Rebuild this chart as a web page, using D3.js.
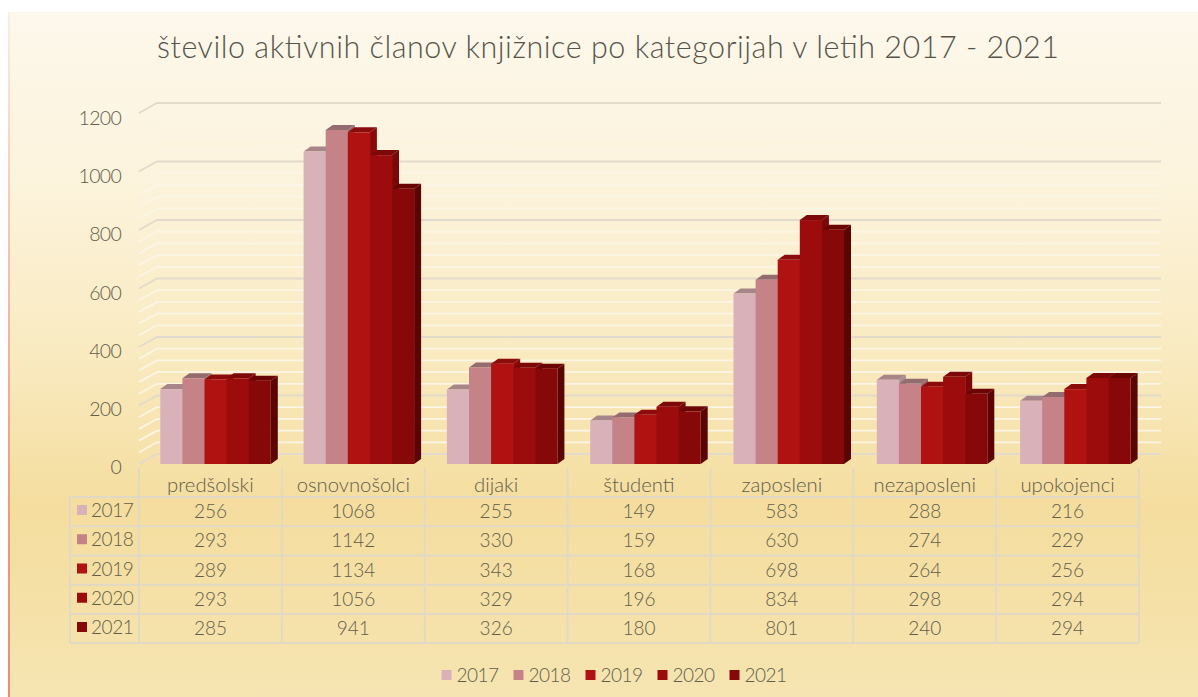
<!DOCTYPE html>
<html><head><meta charset="utf-8">
<style>html,body{margin:0;padding:0;background:#fff}svg{display:block}text{font-family:Lato,"Noto Sans",sans-serif;font-weight:300}</style>
<script src="https://cdn.jsdelivr.net/npm/d3@7"></script>
</head><body><div id="c"></div>
<script>
const categories = ["predšolski","osnovnošolci","dijaki","študenti","zaposleni","nezaposleni","upokojenci"];
const years = ["2017","2018","2019","2020","2021"];
const v2017 = [256,1068,255,149,583,288,216];
const v2018 = [293,1142,330,159,630,274,229];
const v2019 = [289,1134,343,168,698,264,256];
const v2020 = [293,1056,329,196,834,298,294];
const v2021 = [285,941,326,180,801,240,294];
const seriesValues = [v2017,v2018,v2019,v2020,v2021];
const majorTicks = [0,200,400,600,800,1000,1200];
const minorTicks = d3.range(0,1201,40).filter(d=>d%200!==0);
const title = "število aktivnih članov knjižnice po kategorijah v letih 2017 - 2021";
const frontColors = ["#d8b2b8","#c58388","#b01212","#9c0c0c","#870808"];
const sideColors = ["#a88c8e","#8f6a6e","#8a0a0a","#7a0808","#5a0404"];
const topColors = ["#a88589","#946c70","#8c0b0b","#7d0808","#6a0505"];
const textColor = "#625d4b", gridColor="#e2dacb", tableColor="#e0d9c6";

const W=1198,H=697;
const svg=d3.select("#c").append("svg").attr("width",W).attr("height",H);
const defs=svg.append("defs");
const bg=defs.append("linearGradient").attr("id","bg").attr("x1",0).attr("x2",0).attr("y1",0).attr("y2",1);
[[0,"#fdf8ec"],[.25,"#fcf3dc"],[.5,"#f9eac0"],[.72,"#f4dd9e"],[.85,"#f5e0a6"],[1,"#f6e5b2"]].forEach(s=>bg.append("stop").attr("offset",s[0]).attr("stop-color",s[1]));
const edge=defs.append("linearGradient").attr("id","edge").attr("x1",0).attr("x2",0).attr("y1",0).attr("y2",1);
[[0,"#fbeee2"],[.25,"#f8cdb8"],[.7,"#ee9c80"],[1,"#ec8d72"]].forEach(s=>edge.append("stop").attr("offset",s[0]).attr("stop-color",s[1]));

svg.append("rect").attr("x",8).attr("y",12).attr("width",W-8).attr("height",H-12).attr("fill","url(#bg)");
svg.append("rect").attr("x",8).attr("y",12).attr("width",2).attr("height",H-12).attr("fill","url(#edge)");

svg.append("text").attr("x",608).attr("y",58).attr("text-anchor","middle").attr("font-size",30.5)
  .attr("textLength",902).attr("lengthAdjust","spacing").attr("fill","#565449").text(title);

// scales
const y=d3.scaleLinear().domain([0,1200]).range([464,113]);
const yLabel=d3.scaleLinear().domain([0,1200]).range([474,125]);
const depthX=18, depthY=-10, backX1=1161, frontX0=139;
const groupX=d3.scaleBand().domain(categories).range([139,1139]);
const barGroupX=d3.scaleBand().domain(categories).range([160.3,160.3+7*143.3]);
const barW=22.1, barDX=7, barDY=5;

// grid
const grid=svg.append("g").attr("fill","none");
function gridLine(t,color,sw){
  const yf=y(t), yb=yf+depthY;
  grid.append("path").attr("d",d3.line()([[frontX0,yf],[frontX0+depthX,yb],[backX1,yb]]))
    .attr("stroke",color).attr("stroke-width",sw);
}
minorTicks.forEach(t=>gridLine(t,"#fbf5e6",1.8));
majorTicks.forEach(t=>gridLine(t,gridColor,1.8));

// bars
const bars=svg.append("g");
categories.forEach((c,i)=>{
  const gx=barGroupX(c);
  seriesValues.forEach((vals,s)=>{
    const x0=gx+s*barW, x1=x0+barW, yt=y(vals[i]), yb=y(0);
    const g=bars.append("g");
    g.append("polygon").attr("points",[[x1,yb],[x1+barDX,yb-barDY],[x1+barDX,yt-barDY],[x1,yt]].join(" ")).attr("fill",sideColors[s]);
    g.append("polygon").attr("points",[[x0,yt],[x1,yt],[x1+barDX,yt-barDY],[x0+barDX,yt-barDY]].join(" ")).attr("fill",topColors[s]);
    g.append("rect").attr("x",x0).attr("y",yt).attr("width",barW+(s<4?0.5:0)).attr("height",yb-yt).attr("fill",frontColors[s]);
  });
});

// y labels
svg.append("g").selectAll("text").data(majorTicks).join("text")
  .attr("x",121).attr("y",d=>yLabel(d)).attr("text-anchor","end").attr("font-size",19.5)
  .attr("letter-spacing",-0.7).attr("fill",textColor).text(d=>d);

// data table
const rowY=d3.scalePoint().domain(years).range([497,614]);
const tableLeft=70, tableBottom=643, catTop=468;
const tbl=svg.append("g").attr("stroke",tableColor).attr("stroke-width",1.8);
[...years.map(r=>rowY(r)),tableBottom].forEach(yy=>tbl.append("line").attr("x1",tableLeft).attr("x2",1139).attr("y1",yy).attr("y2",yy));
tbl.append("line").attr("x1",tableLeft).attr("x2",tableLeft).attr("y1",497).attr("y2",tableBottom);
[...categories.map(c=>groupX(c)),1139].forEach(xx=>tbl.append("line").attr("x1",xx).attr("x2",xx).attr("y1",catTop).attr("y2",tableBottom));

svg.append("g").selectAll("text").data(categories).join("text")
  .attr("x",c=>groupX(c)+groupX.bandwidth()/2).attr("y",492).attr("text-anchor","middle")
  .attr("font-size",20.3).attr("fill",textColor).text(c=>c);

years.forEach((yr,s)=>{
  const ry=rowY(yr);
  svg.append("rect").attr("x",77).attr("y",ry+8).attr("width",10).attr("height",10).attr("fill",frontColors[s]);
  svg.append("text").attr("x",91).attr("y",ry+20).attr("font-size",19).attr("letter-spacing",-0.4).attr("fill",textColor).text(yr);
  svg.append("g").selectAll("text").data(categories).join("text")
    .attr("x",c=>groupX(c)+groupX.bandwidth()/2).attr("y",ry+21).attr("text-anchor","middle")
    .attr("font-size",19).attr("fill",textColor).text((c,i)=>seriesValues[s][i]);
});

// legend
const legX=d3.scalePoint().domain(years).range([441.5,729.5]);
years.forEach((yr,s)=>{
  svg.append("rect").attr("x",legX(yr)).attr("y",670).attr("width",10).attr("height",10).attr("fill",frontColors[s]);
  svg.append("text").attr("x",legX(yr)+15).attr("y",682).attr("font-size",19).attr("letter-spacing",-0.5).attr("fill",textColor).text(yr);
});
</script></body></html>
